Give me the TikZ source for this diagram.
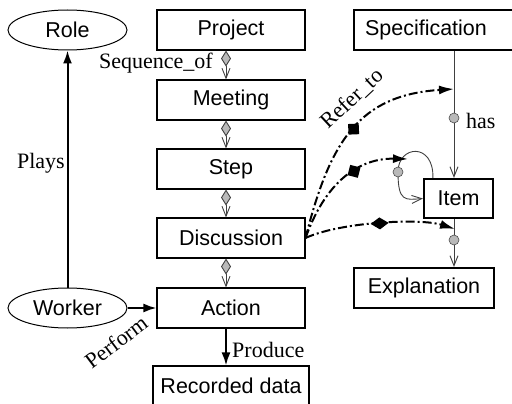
\documentclass[tikz,border=0pt]{standalone}
\usepackage{fontspec}
\setmainfont{Liberation Serif}
\newfontfamily\boxfont{Liberation Sans}
\usetikzlibrary{arrows.meta,shapes.geometric,decorations.markings}

\begin{document}
\begin{tikzpicture}[x=1pt,y=-1pt,
  proc/.style={draw, line width=1.1pt, minimum width=148pt, minimum height=40pt,
    inner sep=0pt, font=\boxfont\fontsize{21.5}{24}\selectfont},
  spec/.style={proc, line width=2.2pt},
  actor/.style={draw, ellipse, line width=1pt, minimum width=119pt, minimum height=40pt,
    inner sep=0pt, font=\boxfont\fontsize{21.5}{24}\selectfont},
  lbl/.style={font=\fontsize{22}{24}\selectfont, inner sep=0pt},
  rel/.style={line width=2pt, -{Latex[length=13pt,width=9pt]}},
  seq/.style={draw=black!75, line width=0.9pt,
    {Diamond[fill=gray!55,length=16pt,width=10pt]}-{Straight Barb[length=10pt,width=8pt]}},
  link/.style={draw=black!75, line width=0.9pt, -{Straight Barb[length=10pt,width=8pt]}},
  dot/.style={circle, draw=black!70, fill=gray!55, inner sep=0pt, minimum size=10pt, line width=0.6pt},
  refer/.style={line width=2pt, dash pattern=on 9pt off 3pt on 2pt off 3pt,
    -{Latex[length=15pt,width=9pt]}},
  % filled marker placed along a refer_to link: position, half length, half width
  refmark/.style n args={3}{postaction={decorate, decoration={markings,
    mark=at position #1 with {\fill (-#2,0pt) -- (0pt,#3) -- (#2,0pt) -- (0pt,-#3) -- cycle;}}}}
]
\useasboundingbox (0,0) rectangle (512,404);

% process chain
\node[proc] (Project)    at (231,30)  {Project};
\node[proc] (Meeting)    at (231,100) {Meeting};
\node[proc] (Step)       at (231,169) {Step};
\node[proc] (Discussion) at (231,238) {Discussion};
\node[proc] (Action)     at (231,308) {Action};
\node[proc, minimum width=156pt] (Recorded) at (231,386) {Recorded data};

% actors
\node[actor] (Role)   at (67.5,30)  {Role};
\node[actor] (Worker) at (67.5,308) {Worker};

% specification side
\node[spec, minimum width=160pt, text width=138pt, align=left] (Specification) at (434,30) {Specification};
\node[spec, minimum width=69pt, minimum height=39pt] (Item) at (458.5,198.5) {Item};
\node[spec, minimum width=140pt] (Explanation) at (424,288) {Explanation};

% sequence links
\coordinate (sx) at (226,0);
\draw[seq] (sx |- Project.south) -- (sx |- Meeting.north);
\node[lbl, anchor=east] (seqlbl) at (213,63) {Sequence\_of};
\draw[seq] (sx |- Meeting.south) -- (sx |- Step.north);
\draw[seq] (sx |- Step.south) -- (sx |- Discussion.north);
\draw[seq] (sx |- Discussion.south) -- (sx |- Action.north);

% worker relations
\draw[rel] (Worker.north) -- (Role.south);
\node[lbl, anchor=east] (playslbl) at (65,163) {Plays};
\draw[rel] (Worker.east) -- (Action.west);
\node[lbl, rotate=37] (performlbl) at (116,342) {Perform};
\draw[rel] (sx |- Action.south) -- (sx |- Recorded.north);
\node[lbl, anchor=west] (producelbl) at (232,350) {Produce};

% has links
\coordinate (hx) at (454,0);
\draw[link] (hx |- Specification.south) -- (hx |- Item.north);
\node[dot] (hasdot) at (454,118) {};
\node[lbl, anchor=west] (haslbl) at (466,121) {has};
\draw[link] (hx |- Item.south) -- (hx |- Explanation.north);
\node[dot] (expdot) at (454,240) {};

% self loop on Item
\coordinate (loopdot) at (398,172);
\draw[link] ([xshift=10pt]Item.north west) .. controls (434,142) and (398,145) .. (loopdot)
  .. controls (398,202) and (405,200) .. (Item.west);
\node[dot] (loopmark) at (loopdot) {};

% refer_to links
\coordinate (r1) at (454,89);
\coordinate (r2) at (408,159);
\coordinate (r3) at (455,229);
\draw[refer, refmark={0.52}{7.5pt}{7.5pt}] (Discussion.east) .. controls (330,140) and (360,95) .. (r1);
\draw[refer, refmark={0.6}{7.5pt}{7.5pt}] (Discussion.east) .. controls (328,175) and (365,158) .. (r2);
\draw[refer, refmark={0.5}{9pt}{6pt}] (Discussion.east) .. controls (340,222) and (420,218) .. (r3);
\node[lbl, rotate=43] (referlbl) at (352,99) {Refer\_to};
\end{tikzpicture}
\end{document}
